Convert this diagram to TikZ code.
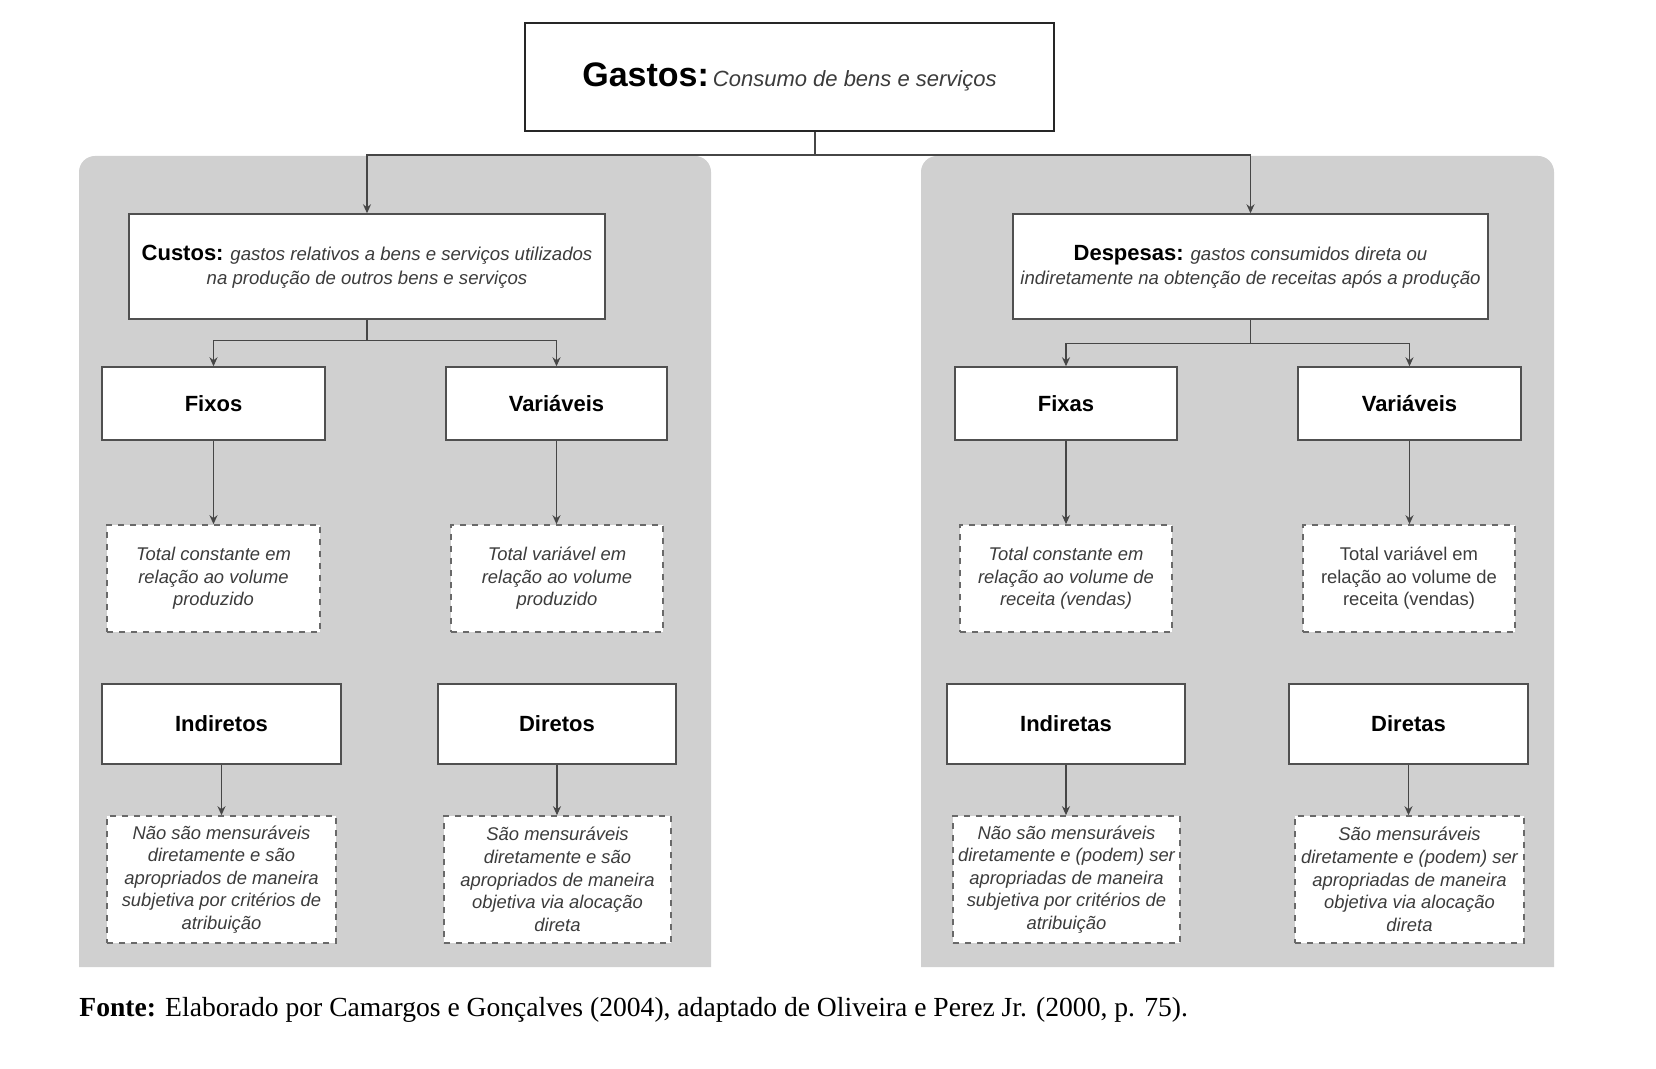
\documentclass[tikz,border=0pt]{standalone}
\usepackage{fontspec}
\usetikzlibrary{arrows.meta}
\setmainfont{Liberation Sans}
\newfontfamily\fontecap{Liberation Serif}
\definecolor{panelgray}{RGB}{208,208,208}
\definecolor{boxline}{RGB}{80,80,80}
\definecolor{dashline}{RGB}{105,105,105}
\definecolor{linkgray}{RGB}{70,70,70}
\definecolor{notetext}{RGB}{60,60,60}

\begin{document}
\begin{tikzpicture}[x=0.5pt,y=-0.5pt,>={Stealth[length=4.5pt,width=4pt]},
  every node/.style={inner sep=0pt, align=center},
  whitebox/.style={draw=boxline, fill=white, line width=0.7pt},
  labelbox/.style={whitebox, minimum height=36.5pt, font=\fontsize{11}{13}\selectfont\bfseries},
  namebox/.style={whitebox, minimum height=40pt, font=\fontsize{11}{13}\selectfont\bfseries},
  notebox/.style={draw=dashline, fill=white, dashed, line width=0.8pt, text=notetext,
    font=\fontsize{9.2}{11.3}\selectfont\itshape},
  link/.style={draw=linkgray, line width=0.7pt}]
\useasboundingbox (0,0) rectangle (1656,1069);

% panels
\fill[panelgray] (79,967) [rounded corners=8pt] -- (79,156) -- (711,156) [sharp corners] -- (711,967) -- cycle;
\fill[panelgray] (921,967) [rounded corners=8pt] -- (921,156) -- (1554,156) [sharp corners] -- (1554,967) -- cycle;

% top
\node[draw=black!85, fill=white, line width=1.1pt, minimum width=264.5pt, minimum height=54pt] (gastos) at (789.5,77)
  {\fontsize{17}{20}\selectfont\bfseries Gastos:\hspace{2pt}{\fontsize{11}{13}\selectfont\mdseries\itshape\color{notetext}Consumo de bens e serviços}};
\node[whitebox, minimum width=238pt, minimum height=52.5pt, font=\fontsize{9.3}{12}\selectfont\itshape, text=notetext] (custos) at (367,266.5)
  {{\fontsize{11}{12}\selectfont\upshape\bfseries\color{black}Custos:} gastos relativos a bens e serviços utilizados\\na produção de outros bens e serviços};
\node[whitebox, minimum width=237.5pt, minimum height=52.5pt, font=\fontsize{9.3}{12}\selectfont\itshape, text=notetext] (despesas) at (1250.5,266.5)
  {{\fontsize{11}{12}\selectfont\upshape\bfseries\color{black}Despesas:} gastos consumidos direta ou\\indiretamente na obtenção de receitas após a produção};

% custos
\node[labelbox, minimum width=111.5pt] (fixos) at (213.5,403.5) {Fixos};
\node[labelbox, minimum width=110.5pt] (varL) at (556.5,403.5) {Variáveis};
\node[notebox, minimum width=106.5pt, minimum height=53.5pt] (tcL) at (213.5,578.5) {Total constante em\\relação ao volume\\produzido};
\node[notebox, minimum width=106pt, minimum height=53.5pt] (tvL) at (557,578.5) {Total variável em\\relação ao volume\\produzido};
\node[namebox, minimum width=119.5pt] (indL) at (221.5,724) {Indiretos};
\node[namebox, minimum width=119pt] (dirL) at (557,724) {Diretos};
\node[notebox, minimum width=114.5pt, minimum height=63.5pt] (nsL) at (221.5,879.5) {Não são mensuráveis\\diretamente e são\\apropriados de maneira\\subjetiva por critérios de\\atribuição};
\node[notebox, minimum width=113.5pt, minimum height=63.5pt] (sL) at (557.5,879.5) {São mensuráveis\\diretamente e são\\apropriados de maneira\\objetiva via alocação\\direta};

% despesas
\node[labelbox, minimum width=111pt] (fixas) at (1066,403.5) {Fixas};
\node[labelbox, minimum width=111.5pt] (varR) at (1409.5,403.5) {Variáveis};
\node[notebox, minimum width=106pt, minimum height=53.5pt] (tcR) at (1066,578.5) {Total constante em\\relação ao volume de\\receita (vendas)};
\node[notebox, minimum width=106pt, minimum height=53.5pt, font=\fontsize{9.2}{11.3}\selectfont] (tvR) at (1409,578.5) {Total variável em\\relação ao volume de\\receita (vendas)};
\node[namebox, minimum width=119pt] (indR) at (1066,724) {Indiretas};
\node[namebox, minimum width=119.5pt] (dirR) at (1408.5,724) {Diretas};
\node[notebox, minimum width=113.5pt, minimum height=63.5pt] (nsR) at (1066.5,879.5) {Não são mensuráveis\\diretamente e (podem) ser\\apropriadas de maneira\\subjetiva por critérios de\\atribuição};
\node[notebox, minimum width=114.5pt, minimum height=63.5pt] (sR) at (1409.5,879.5) {São mensuráveis\\diretamente e (podem) ser\\apropriadas de maneira\\objetiva via alocação\\direta};

% connectors
\coordinate (split) at (815,155);
\draw[link] (gastos.south -| split) -- (split);
\draw[link,->] (split) -| (custos.north);
\draw[link,->] (split) -| (despesas.north);
\path (custos.south) ++(0,21) coordinate (cbranch);
\path (despesas.south) ++(0,24) coordinate (dbranch);
\draw[link] (custos.south) -- (cbranch);
\draw[link,->] (cbranch) -| (fixos.north);
\draw[link,->] (cbranch) -| (varL.north);
\draw[link] (despesas.south) -- (dbranch);
\draw[link,->] (dbranch) -| (fixas.north);
\draw[link,->] (dbranch) -| (varR.north);
\foreach \a/\b in {fixos/tcL, varL/tvL, indL/nsL, dirL/sL, fixas/tcR, varR/tvR, indR/nsR, dirR/sR}
  \draw[link,->] (\a.south) -- (\a.south |- \b.north);

% source
\node[anchor=base west, font=\fontecap\fontsize{13.8}{16}\selectfont] (fonte) at (79,1016)
  {\textbf{Fonte:} Elaborado por Camargos e Gonçalves (2004), adaptado de Oliveira e Perez Jr. (2000, p. 75).};
\end{tikzpicture}
\end{document}
